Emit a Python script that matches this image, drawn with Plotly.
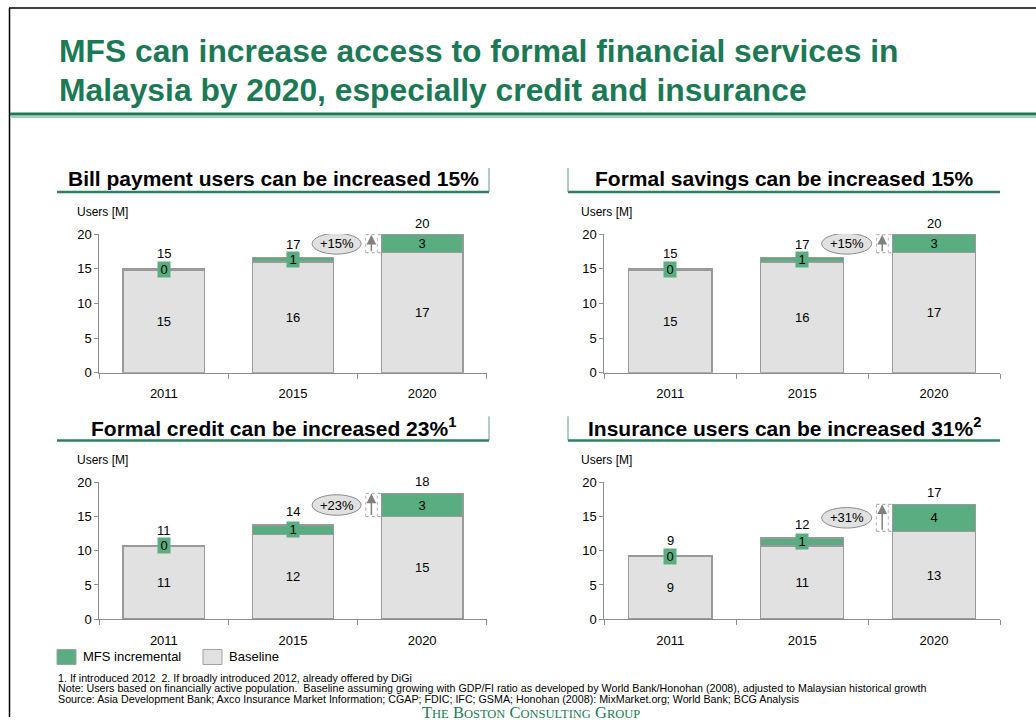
import plotly.graph_objects as go

W, H = 1036, 725

years = ["2011", "2015", "2020"]

bill_base = [14.8, 16.0, 17.3]
bill_mfs = [0.15, 0.6, 2.6]
savings_base = [14.8, 16.0, 17.3]
savings_mfs = [0.15, 0.6, 2.6]
credit_base = [10.7, 12.4, 15.0]
credit_mfs = [0.05, 1.4, 3.4]
insurance_base = [9.2, 10.7, 12.85]
insurance_mfs = [0.05, 1.2, 3.95]

panel_titles = [
    "Bill payment users can be increased {p}%",
    "Formal savings can be increased {p}%",
    "Formal credit can be increased {p}%<sup>1</sup>",
    "Insurance users can be increased {p}%<sup>2</sup>",
]

headline = [
    "MFS can increase access to formal financial services in",
    "Malaysia by 2020, especially credit and insurance",
]

footnotes = [
    "1. If introduced 2012  2. If broadly introduced 2012, already offered by DiGi",
    "Note: Users based on financially active population.  Baseline assuming growing with GDP/FI ratio as developed by World Bank/Honohan (2008), adjusted to Malaysian historical growth",
    "Source: Asia Development Bank; Axco Insurance Market Information; CGAP; FDIC; IFC; GSMA; Honohan (2008): MixMarket.org; World Bank; BCG Analysis",
]

GREEN = "#5aad80"
GREY = "#e1e1e1"
EDGE = "#9a9a9a"
DARK_GREEN = "#1b7a55"
FONT = "Liberation Sans, Arial, sans-serif"

# slide layout is described in sheet pixels; vertically the sheet maps onto
# the figure through a small offset and scale
SHEET_TOP = 8.67
SHEET_SCALE = 0.9776


def px(x):
    return x / W


def py(y):
    yf = (y - SHEET_TOP) / SHEET_SCALE
    return min(1.0, max(0.0, 1 - yf / H))


panels = [
    dict(base=bill_base, mfs=bill_mfs, title=panel_titles[0],
         xd=(99.3, 486.7), yd=(235.3, 373.7), side="left"),
    dict(base=savings_base, mfs=savings_mfs, title=panel_titles[1],
         xd=(604.3, 1000.0), yd=(235.3, 373.7), side="right"),
    dict(base=credit_base, mfs=credit_mfs, title=panel_titles[2],
         xd=(99.3, 486.7), yd=(483.3, 619.7), side="left"),
    dict(base=insurance_base, mfs=insurance_mfs, title=panel_titles[3],
         xd=(604.3, 1000.0), yd=(483.3, 619.7), side="right"),
]

fig = go.Figure()
shapes = []
annotations = []
BAR_W = 0.63

for k, p in enumerate(panels, start=1):
    xa = "x" if k == 1 else f"x{k}"
    ya = "y" if k == 1 else f"y{k}"
    base, mfs = p["base"], p["mfs"]
    totals = [b + m for b, m in zip(base, mfs)]

    fig.add_trace(go.Bar(
        x=years, y=base, width=BAR_W, name="Baseline",
        marker=dict(color=GREY, line=dict(color=EDGE, width=1.5)),
        text=[f"{v:.0f}" for v in base], textposition="inside",
        insidetextanchor="middle", textangle=0,
        textfont=dict(family=FONT, size=13, color="#000"),
        xaxis=xa, yaxis=ya, showlegend=False, hoverinfo="skip",
    ))
    fig.add_trace(go.Bar(
        x=years, y=mfs, width=BAR_W, name="MFS incremental",
        marker=dict(color=GREEN, line=dict(color=EDGE, width=1.5)),
        xaxis=xa, yaxis=ya, showlegend=False, hoverinfo="skip",
    ))

    for i, yr in enumerate(years):
        # incremental label, boxed so it stays legible on thin segments
        annotations.append(dict(
            xref=xa, yref=ya, x=i, y=base[i] + mfs[i] / 2, text=f"{mfs[i]:.0f}",
            showarrow=False, bgcolor=GREEN, borderpad=0, width=12, height=15,
            font=dict(family=FONT, size=13, color="#000"),
        ))
        # total on top of the stack
        shift = 2 if mfs[i] >= 2 else (4 if mfs[i] >= 0.5 else 6)
        annotations.append(dict(
            xref=xa, yref=ya, x=i, y=totals[i], text=f"{totals[i]:.0f}",
            showarrow=False, yanchor="bottom", yshift=shift,
            font=dict(family=FONT, size=13, color="#000"),
        ))

    # growth callout for the final year
    b, t = base[2], totals[2]
    pct = round(100 * mfs[2] / base[2])
    mid = (b + t) / 2
    shapes.append(dict(type="circle", xref=xa, yref=ya,
                       x0=1.148, x1=1.527, y0=mid - 1.5, y1=mid + 1.5,
                       fillcolor=GREY, line=dict(color="#8a8a8a", width=1)))
    annotations.append(dict(xref=xa, yref=ya, x=1.338, y=mid, text=f"+{pct}%",
                            showarrow=False,
                            font=dict(family=FONT, size=13, color="#000")))
    for yy in (b, t):
        shapes.append(dict(type="line", xref=xa, yref=ya, x0=1.563,
                           x1=2 - BAR_W / 2, y0=yy, y1=yy,
                           line=dict(color="#a0a0a0", width=1, dash="dot")))
    for xx in (1.563, 1.653):
        shapes.append(dict(type="line", xref=xa, yref=ya, x0=xx, x1=xx,
                           y0=b, y1=t,
                           line=dict(color="#b5b5b5", width=1, dash="dot")))
    annotations.append(dict(xref=xa, yref=ya, x=1.607, y=t, ax=1.607, ay=b,
                            axref=xa, ayref=ya, text="", showarrow=True,
                            arrowhead=2, arrowsize=1.3, arrowwidth=1.5,
                            arrowcolor="#808080"))

    # axes
    axis_common = dict(showline=True, linecolor="#8c8c8c", linewidth=1,
                       ticks="outside", tickcolor="#8c8c8c", showgrid=False,
                       zeroline=False, fixedrange=True,
                       tickfont=dict(family=FONT, size=13, color="#000"))
    fig.layout[f"xaxis{k if k > 1 else ''}"] = dict(
        axis_common, domain=[px(p["xd"][0]), px(p["xd"][1])], anchor=ya,
        type="category", range=[-0.5, 2.5], tickson="boundaries", ticklen=5,
        ticklabelstandoff=9)
    fig.layout[f"yaxis{k if k > 1 else ''}"] = dict(
        axis_common, domain=[py(p["yd"][1]), py(p["yd"][0])], anchor=xa,
        range=[0, 20], dtick=5, ticklen=4)

    # panel heading with its underline
    ux0, ux1 = (57, 489) if p["side"] == "left" else (568, 1000)
    uy = p["yd"][0] - 42
    annotations.append(dict(xref="paper", yref="paper", x=px((ux0 + ux1) / 2),
                            y=py(uy - 13), text=p["title"].format(p=pct),
                            showarrow=False, xanchor="center", yanchor="middle",
                            font=dict(family=FONT, size=21, color="#000",
                                      weight="bold")))
    shapes.append(dict(type="line", xref="paper", yref="paper",
                       x0=px(ux0), x1=px(ux1), y0=py(uy), y1=py(uy),
                       line=dict(color="#2f8060", width=2.5)))
    vx = ux1 if p["side"] == "left" else ux0
    shapes.append(dict(type="line", xref="paper", yref="paper",
                       x0=px(vx), x1=px(vx), y0=py(uy - 24), y1=py(uy),
                       line=dict(color="#5e9c80", width=1)))
    annotations.append(dict(xref="paper", yref="paper",
                            x=px(75 if p["side"] == "left" else 579),
                            y=py(p["yd"][0] - 22), text="Users [M]",
                            showarrow=False, xanchor="left", yanchor="middle",
                            font=dict(family=FONT, size=12, color="#000")))

# page frame and headline rule
shapes += [
    dict(type="line", xref="paper", yref="paper", x0=px(9), x1=1,
         y0=py(9.6), y1=py(9.6), line=dict(color="#000", width=1.5)),
    dict(type="line", xref="paper", yref="paper", x0=px(9.5), x1=px(9.5),
         y0=py(9.6), y1=0, line=dict(color="#000", width=1.5)),
    dict(type="line", xref="paper", yref="paper", x0=px(10), x1=1,
         y0=py(115.5), y1=py(115.5), line=dict(color="#1b7a55", width=3)),
    dict(type="line", xref="paper", yref="paper", x0=px(10), x1=1,
         y0=py(118.5), y1=py(118.5), line=dict(color="#a3d1b3", width=2)),
]

for j, line in enumerate(headline):
    annotations.append(dict(
        xref="paper", yref="paper", x=px(57), y=py(53 + 38.5 * j),
        xanchor="left", yanchor="middle", showarrow=False, text=line,
        font=dict(family=FONT, size=31.8, color=DARK_GREEN, weight="bold")))

# legend
legend_items = [("MFS incremental", GREEN, 57), ("Baseline", GREY, 203)]
for label, color, x0 in legend_items:
    shapes.append(dict(type="rect", xref="paper", yref="paper",
                       x0=px(x0), x1=px(x0 + 19), y0=py(665), y1=py(650),
                       fillcolor=color, line=dict(color="#a0a0a0", width=1)))
    annotations.append(dict(xref="paper", yref="paper", x=px(x0 + 24),
                            y=py(657.5), text=label, showarrow=False,
                            xanchor="left", yanchor="middle",
                            font=dict(family=FONT, size=13, color="#000")))

for j, line in enumerate(footnotes):
    annotations.append(dict(xref="paper", yref="paper", x=px(56),
                            y=py(678 + 10.5 * j), text=line, showarrow=False,
                            xanchor="left", yanchor="middle",
                            font=dict(family=FONT, size=10.7, color="#000")))

# small-caps wordmark; its capitals sit on the bottom edge
sc = "<span style='font-size:12.5px'>{}</span>"
brand = " ".join(w[0] + sc.format(w[1:]) for w in
                 ["THE", "BOSTON", "CONSULTING", "GROUP"])
annotations.append(dict(xref="paper", yref="paper", x=px(531), y=0,
                        text=brand, showarrow=False, xanchor="center",
                        yanchor="bottom", yshift=-6.5,
                        font=dict(family="Liberation Serif, Times New Roman, serif",
                                  size=16.5, color=DARK_GREEN)))

fig.update_layout(
    width=W, height=H, margin=dict(l=0, r=0, t=0, b=0),
    paper_bgcolor="#fff", plot_bgcolor="#fff", barmode="stack",
    shapes=shapes, annotations=annotations, showlegend=False,
    font=dict(family=FONT),
)

fig.write_html("out.html", config={"displayModeBar": False})
